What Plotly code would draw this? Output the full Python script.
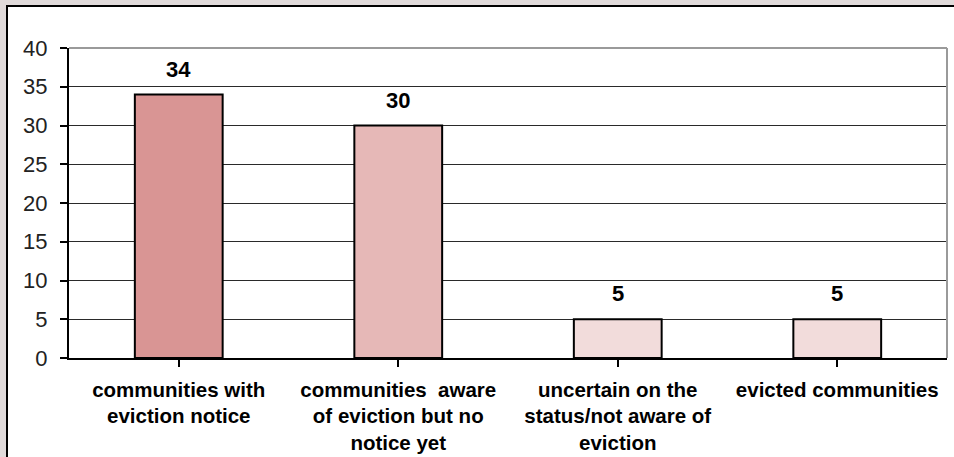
import plotly.graph_objects as go

categories = [
    "communities with<br>eviction notice",
    "communities  aware<br>of eviction but no<br>notice yet",
    "uncertain on the<br>status/not aware of<br>eviction",
    "evicted communities",
]
values = [34, 30, 5, 5]
bar_colors = ["#D99594", "#E6B8B7", "#F2DCDB", "#F2DCDB"]
y_ticks = [0, 5, 10, 15, 20, 25, 30, 35, 40]

W, H = 954, 457
L, R, T, B = 69, 7, 48, 99
pw, ph = W - L - R, H - T - B

fig = go.Figure()
fig.add_trace(go.Bar(
    x=list(range(len(categories))), y=values,
    marker=dict(color=bar_colors, line=dict(color="#000000", width=2)),
    width=0.4, hoverinfo="skip",
))

annotations = []
for i, v in enumerate(values):
    annotations.append(dict(
        x=i, y=v, xref="x", yref="y", text=f"<b>{v}</b>", showarrow=False,
        yanchor="bottom", yshift=11,
        font=dict(family="Liberation Sans, Arial", size=22, color="#000000"),
    ))

def px_x(p):
    return (p - L) / pw

def px_y(p):
    return (T + ph - p) / ph

shapes = [
    # white chart frame
    dict(type="rect", xref="paper", yref="paper",
         x0=px_x(7), x1=px_x(W + 20), y0=px_y(H + 20), y1=px_y(6),
         fillcolor="#ffffff", line=dict(color="#000000", width=2), layer="below"),
    # gray plot border (top/right)
    dict(type="line", xref="paper", yref="paper", x0=0, x1=1, y0=1, y1=1,
         line=dict(color="#9a9a9a", width=2), layer="above"),
    dict(type="line", xref="paper", yref="paper", x0=1, x1=1, y0=0, y1=1,
         line=dict(color="#9a9a9a", width=2), layer="above"),
]

fig.update_layout(
    width=W, height=H,
    margin=dict(l=L, r=R, t=T, b=B, pad=0, autoexpand=False),
    paper_bgcolor="#e0dada",
    plot_bgcolor="rgba(0,0,0,0)",
    showlegend=False,
    bargap=0.6,
    shapes=shapes,
    annotations=annotations,
    font=dict(family="Liberation Sans, Arial", color="#000000"),
)
fig.update_xaxes(
    automargin=False,
    range=[-0.5, len(categories) - 0.5],
    tickmode="array", tickvals=list(range(len(categories))),
    ticktext=[f"<b>{c}</b>" for c in categories],
    tickson="boundaries", ticks="outside", ticklen=7, tickwidth=1.5, tickcolor="#000000",
    showline=True, linecolor="#000000", linewidth=2,
    showgrid=False, zeroline=False,
    ticklabelstandoff=5,
    tickfont=dict(family="Liberation Sans, Arial", size=20.5, color="#000000"),
)
fig.update_yaxes(
    automargin=False,
    range=[0, 40], tickmode="array", tickvals=y_ticks,
    ticks="outside", ticklen=7, tickwidth=1.5, tickcolor="#000000",
    showline=True, linecolor="#000000", linewidth=2,
    showgrid=True, gridcolor="#2a2a2a", gridwidth=1, zeroline=False,
    ticklabelstandoff=8,
    tickfont=dict(family="Liberation Sans, Arial", size=22, color="#222222"),
)

fig.write_html(
    "out.html",
    config={"displayModeBar": False},
    post_script="document.body.style.margin='0';document.body.style.overflow='hidden';",
)
